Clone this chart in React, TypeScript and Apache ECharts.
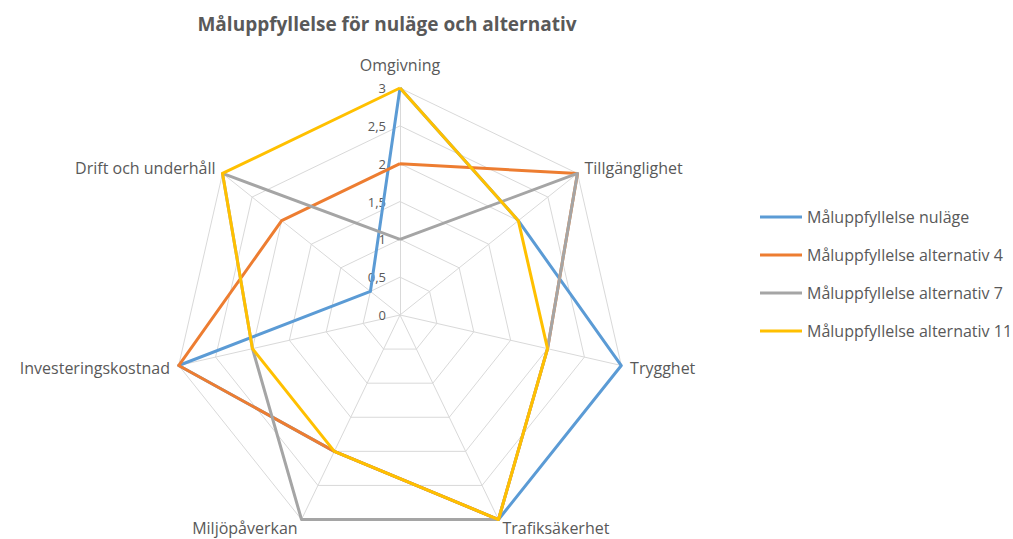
import React, { useEffect, useRef } from "react";
import * as echarts from "echarts";

const categories = [
  "Omgivning",
  "Tillgänglighet",
  "Trygghet",
  "Trafiksäkerhet",
  "Miljöpåverkan",
  "Investeringskostnad",
  "Drift och underhåll",
];
const seriesNames = [
  "Måluppfyllelse nuläge",
  "Måluppfyllelse alternativ 4",
  "Måluppfyllelse alternativ 7",
  "Måluppfyllelse alternativ 11",
];
const nulage = [3, 2, 3, 3, 2, 3, 0.5];
const alt4 = [2, 3, 2, 3, 2, 3, 2];
const alt7 = [1, 3, 2, 3, 3, 2, 3];
const alt11 = [3, 2, 2, 3, 2, 2, 3];
const colors = ["#5B9BD5", "#ED7D31", "#A5A5A5", "#FFC000"];
const axisMax = 3;

// ECharts radar runs counter-clockwise; reorder to draw clockwise from top.
const order = [0, 6, 5, 4, 3, 2, 1];

export default function App() {
  const ref = useRef<HTMLDivElement>(null);
  useEffect(() => {
    document.body.style.margin = "0";
    const chart = echarts.init(ref.current!, null, { renderer: "svg" });
    const values = [nulage, alt4, alt7, alt11];
    const font = "'Open Sans', 'Liberation Sans', Arial, sans-serif";
    chart.setOption({
      animation: false,
      color: colors,
      title: {
        text: "Måluppfyllelse för nuläge och alternativ",
        left: 382,
        textAlign: "center",
        top: 9,
        textStyle: { fontSize: 19, fontWeight: "bold", color: "#595959", fontFamily: font },
      },
      legend: {
        orient: "vertical",
        left: 755,
        top: 204,
        icon: "rect",
        itemWidth: 42,
        itemHeight: 3,
        itemGap: 22,
        textStyle: { fontSize: 16, color: "#595959", fontFamily: font },
        data: seriesNames,
      },
      radar: {
        center: [400, 315],
        radius: 227,
        startAngle: 90,
        splitNumber: 6,
        shape: "polygon",
        axisName: { color: "#595959", fontSize: 16, fontFamily: font, padding: [0, 0, 6, 0] },
        nameGap: 9,
        splitLine: { lineStyle: { color: "#D9D9D9", width: 1 } },
        splitArea: { show: false },
        axisLine: { lineStyle: { color: "#D9D9D9", width: 1 } },
        axisLabel: { show: false },
        indicator: order.map((k, i) => ({
          name: categories[k],
          min: 0,
          max: axisMax,
          ...(i === 0
            ? {
                axisLabel: {
                  show: true,
                  color: "#595959",
                  fontSize: 13,
                  fontFamily: font,
                  margin: 14,
                  formatter: (v: number) => String(v).replace(".", ","),
                },
              }
            : {}),
        })),
      },
      series: [
        {
          type: "radar",
          symbol: "none",
          data: values.map((v, i) => ({
            name: seriesNames[i],
            value: order.map((k) => v[k]),
            lineStyle: { width: 3, color: colors[i] },
            itemStyle: { color: colors[i] },
          })),
        },
      ],
    });
    return () => chart.dispose();
  }, []);
  return <div ref={ref} style={{ width: 1013, height: 539 }} />;
}
